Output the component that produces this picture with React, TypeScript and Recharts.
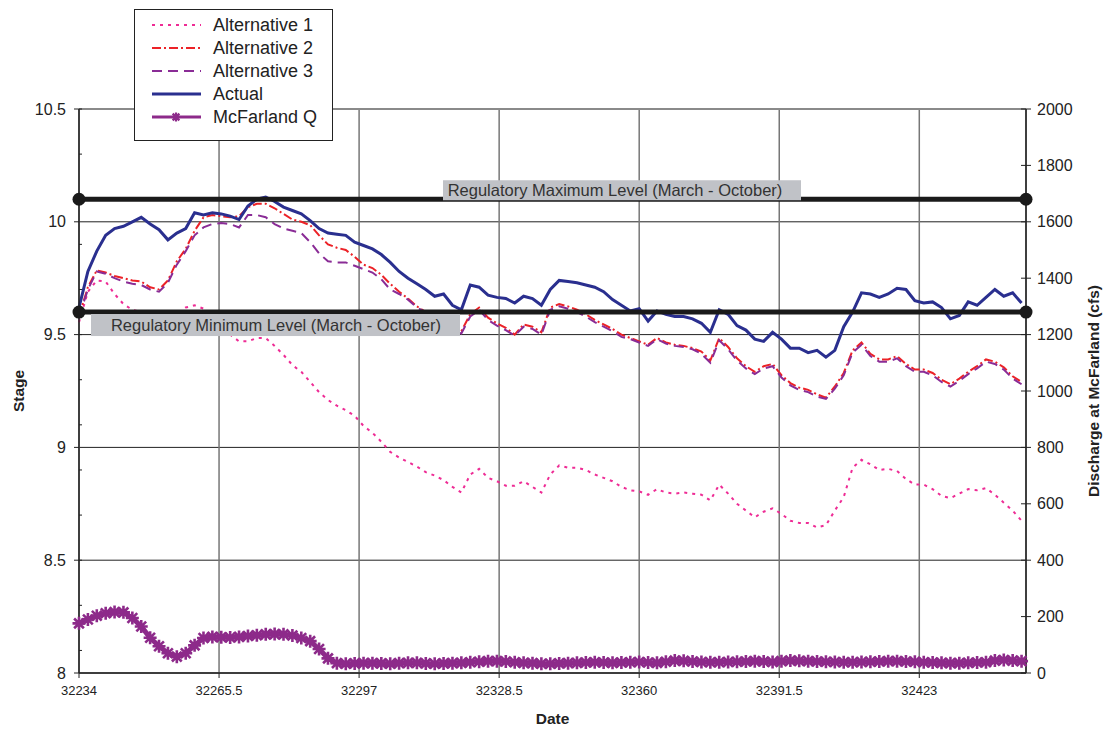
import React from "react";
import {
  ComposedChart,
  Line,
  XAxis,
  YAxis,
  CartesianGrid,
  ReferenceLine,
  ReferenceDot,
  Legend,
} from "recharts";

// Date axis (Excel serial days), daily record sampled every 2 days
const startDay = 32234;
const stepDays = 2;
const dateDomain = [32234, 32447];
const dateTicks = [32234, 32265.5, 32297, 32328.5, 32360, 32391.5, 32423];

const stageTicks = [8, 8.5, 9, 9.5, 10, 10.5];
const stageMinorTicks = [
  8, 8.1, 8.2, 8.3, 8.4, 8.5, 8.6, 8.7, 8.8, 8.9, 9, 9.1, 9.2, 9.3, 9.4, 9.5,
  9.6, 9.7, 9.8, 9.9, 10, 10.1, 10.2, 10.3, 10.4, 10.5,
];
const flowTicks = [0, 200, 400, 600, 800, 1000, 1200, 1400, 1600, 1800, 2000];

const regulatoryMax = 10.1;
const regulatoryMin = 9.6;

const alternative1 = [
  9.555, 9.69, 9.74, 9.735, 9.68, 9.635, 9.61, 9.6, 9.585, 9.57,
  9.57, 9.59, 9.62, 9.63, 9.615, 9.58, 9.54, 9.5, 9.47, 9.47,
  9.485, 9.485, 9.45, 9.41, 9.365, 9.335, 9.29, 9.245, 9.21, 9.185,
  9.165, 9.14, 9.095, 9.065, 9.025, 8.98, 8.955, 8.935, 8.915, 8.89,
  8.875, 8.855, 8.825, 8.8, 8.88, 8.905, 8.865, 8.85, 8.83, 8.83,
  8.85, 8.825, 8.8, 8.88, 8.92, 8.91, 8.91, 8.9, 8.88, 8.865,
  8.85, 8.825, 8.81, 8.805, 8.79, 8.815, 8.8, 8.795, 8.8, 8.795,
  8.79, 8.765, 8.835, 8.795, 8.75, 8.72, 8.69, 8.715, 8.73, 8.705,
  8.675, 8.665, 8.665, 8.645, 8.655, 8.72, 8.78, 8.91, 8.945, 8.925,
  8.9, 8.905, 8.895, 8.86, 8.835, 8.835, 8.815, 8.785, 8.775, 8.795,
  8.815, 8.81, 8.82, 8.79, 8.755, 8.72, 8.675,
];

const alternative2 = [
  9.58, 9.71, 9.785, 9.775, 9.76, 9.75, 9.74, 9.735, 9.71, 9.7,
  9.74, 9.825, 9.88, 9.96, 10.02, 10.03, 10.025, 10.02, 10.025, 10.065,
  10.08, 10.08, 10.06, 10.035, 10.01, 10.0, 9.985, 9.94, 9.9, 9.885,
  9.875, 9.845, 9.81, 9.795, 9.765, 9.725, 9.69, 9.66, 9.625, 9.6,
  9.575, 9.55, 9.53, 9.515, 9.59, 9.62, 9.575, 9.55, 9.53, 9.5,
  9.545, 9.535, 9.51, 9.62, 9.635, 9.625, 9.61, 9.59, 9.565, 9.545,
  9.525, 9.5, 9.485, 9.47, 9.455, 9.485, 9.465, 9.455, 9.45, 9.44,
  9.425, 9.385, 9.485, 9.445, 9.395, 9.36, 9.335, 9.36, 9.37, 9.32,
  9.285, 9.265, 9.255, 9.235, 9.22, 9.27, 9.33, 9.43, 9.465, 9.415,
  9.39, 9.39, 9.405, 9.37, 9.345, 9.345, 9.33, 9.3, 9.28, 9.305,
  9.335, 9.36, 9.39, 9.38, 9.355, 9.315, 9.29,
];

const alternative3 = [
  9.58, 9.7, 9.78, 9.77, 9.75, 9.735, 9.725, 9.72, 9.7, 9.69,
  9.73, 9.81, 9.87, 9.94, 9.975, 9.99, 9.995, 9.99, 9.975, 10.03,
  10.03, 10.02, 9.99, 9.97, 9.96, 9.95, 9.91, 9.86, 9.825, 9.82,
  9.82, 9.805, 9.79, 9.775, 9.745, 9.7, 9.68, 9.655, 9.62, 9.6,
  9.565, 9.54, 9.52, 9.505, 9.58, 9.61, 9.565, 9.54, 9.52, 9.495,
  9.535, 9.525, 9.5, 9.61, 9.625, 9.615, 9.6, 9.58, 9.555, 9.535,
  9.515, 9.49, 9.48, 9.465, 9.45, 9.48, 9.46, 9.45, 9.445, 9.435,
  9.415, 9.375, 9.475, 9.435, 9.385, 9.35, 9.325, 9.35, 9.36, 9.31,
  9.275, 9.255, 9.245, 9.225, 9.215, 9.26, 9.32, 9.42, 9.455, 9.405,
  9.38, 9.38, 9.395, 9.36, 9.335, 9.335, 9.32, 9.29, 9.27, 9.295,
  9.325, 9.35, 9.38, 9.37, 9.345, 9.305, 9.28,
];

const actual = [
  9.62, 9.78, 9.87, 9.94, 9.97, 9.98, 10.0, 10.02, 9.99, 9.965,
  9.92, 9.95, 9.97, 10.04, 10.03, 10.04, 10.035, 10.025, 10.01, 10.07,
  10.1, 10.11, 10.09, 10.065, 10.05, 10.035, 10.005, 9.97, 9.95, 9.945,
  9.94, 9.91, 9.895, 9.88, 9.855, 9.82, 9.78, 9.75, 9.725, 9.7,
  9.67, 9.68, 9.63, 9.61, 9.72, 9.71, 9.675, 9.665, 9.66, 9.64,
  9.67, 9.66, 9.63, 9.7, 9.74, 9.735, 9.73, 9.72, 9.71, 9.69,
  9.655, 9.63, 9.605, 9.615, 9.56, 9.605, 9.59, 9.58, 9.58, 9.57,
  9.55, 9.51, 9.61, 9.59, 9.54, 9.52, 9.48, 9.47, 9.51, 9.48,
  9.44, 9.44, 9.42, 9.43, 9.4, 9.43, 9.535, 9.6, 9.685, 9.68,
  9.665, 9.68, 9.705, 9.7, 9.65, 9.64, 9.645, 9.62, 9.57, 9.585,
  9.645, 9.63, 9.665, 9.7, 9.67, 9.685, 9.64,
];

// McFarland discharge, cfs (right axis)
const mcfarlandQ = [
  176, 190, 203, 212, 216, 215, 195, 165, 125, 95,
  70, 58, 70, 98, 124, 128, 127, 126, 128, 131,
  134, 137, 138, 137, 133, 124, 113, 85, 52, 35,
  33, 34, 35, 35, 34, 33, 35, 36, 36, 34,
  33, 34, 35, 36, 38, 40, 42, 42, 41, 38,
  36, 35, 33, 33, 34, 35, 36, 37, 38, 37,
  36, 37, 38, 39, 37, 36, 40, 44, 43, 41,
  39, 38, 38, 39, 40, 41, 42, 41, 39, 42,
  44, 43, 42, 41, 40, 39, 38, 38, 39, 40,
  41, 42, 42, 41, 40, 38, 37, 36, 35, 35,
  36, 37, 38, 44, 46, 44, 42,
];

const chartRows = actual.map((_, i) => ({
  day: startDay + i * stepDays,
  alt1: alternative1[i],
  alt2: alternative2[i],
  alt3: alternative3[i],
  actual: actual[i],
  flow: mcfarlandQ[i],
}));

const FONT = "'Liberation Sans', Arial, Helvetica, sans-serif";
const INK = "#222";
const ALT1 = "#ee2c95";
const ALT2 = "#ec2227";
const ALT3 = "#8a2c96";
const ACTUAL = "#2a2f8f";
const MCF = "#8d2a8a";
const REF = "#1a1a1a";
const BOX = "#c0c2c7";

function starPath(cx: number, cy: number, r: number) {
  const d = r * 0.75;
  return (
    `M${cx},${cy - r}L${cx},${cy + r}M${cx - r},${cy}L${cx + r},${cy}` +
    `M${cx - d},${cy - d}L${cx + d},${cy + d}M${cx - d},${cy + d}L${cx + d},${cy - d}`
  );
}

function StarDot(props: any) {
  const { cx, cy } = props;
  if (cx == null || cy == null) return <g />;
  return <path d={starPath(cx, cy, 6.5)} stroke={MCF} strokeWidth={2.6} fill="none" />;
}

const legendItems = [
  { name: "Alternative 1", color: ALT1, dash: "3 5", width: 2, star: false },
  { name: "Alternative 2", color: ALT2, dash: "9 3 2 3", width: 2, star: false },
  { name: "Alternative 3", color: ALT3, dash: "10 6", width: 2, star: false },
  { name: "Actual", color: ACTUAL, dash: undefined, width: 3, star: false },
  { name: "McFarland Q", color: MCF, dash: undefined, width: 3, star: true },
];

function LegendBox() {
  return (
    <svg width={199} height={132} style={{ display: "block" }}>
      <rect x={0.5} y={0.5} width={198} height={131} fill="#fff" stroke={INK} strokeWidth={1} />
      {legendItems.map((it, i) => {
        const cy = 16 + i * 23;
        return (
          <g key={it.name}>
            <line x1={18} x2={67} y1={cy} y2={cy} stroke={it.color} strokeWidth={it.width} strokeDasharray={it.dash} />
            {it.star && <path d={starPath(42, cy, 4.5)} stroke={MCF} strokeWidth={2.2} fill="none" />}
            <text x={79} y={cy} dominantBaseline="central" fontSize={18} fontFamily={FONT} fill={INK}>
              {it.name}
            </text>
          </g>
        );
      })}
    </svg>
  );
}

function RegLabel(text: string, dx: number, dy: number, w: number, h: number, textDx: number) {
  return (props: any) => {
    const vb = props.viewBox || {};
    const x = (vb.x ?? 0) + dx;
    const y = (vb.y ?? 0) + dy;
    return (
      <g>
        <rect x={x} y={y} width={w} height={h} fill={BOX} />
        <text x={x + textDx} y={y + h / 2} textAnchor="middle" dominantBaseline="central" fontSize={16.5} fontFamily={FONT} fill="#333">
          {text}
        </text>
      </g>
    );
  };
}

function yTitle(text: string, dx: number) {
  return (props: any) => {
    const vb = props.viewBox || {};
    const x = (vb.x ?? 0) + dx;
    const y = (vb.y ?? 0) + (vb.height ?? 0) / 2;
    return (
      <text x={x} y={y} transform={`rotate(-90 ${x} ${y})`} textAnchor="middle" dominantBaseline="central" fontSize={15.5} fontWeight="bold" fontFamily={FONT} fill={INK}>
        {text}
      </text>
    );
  };
}

function xTitle(props: any) {
  const vb = props.viewBox || {};
  const x = (vb.x ?? 0) + (vb.width ?? 0) / 2;
  const y = (vb.y ?? 0) + 45;
  return (
    <text x={x} y={y} textAnchor="middle" dominantBaseline="central" fontSize={15.5} fontWeight="bold" fontFamily={FONT} fill={INK}>
      Date
    </text>
  );
}

export default function App() {
  const tickStyle = { fill: INK, fontSize: 16, fontFamily: FONT };
  return (
    <div style={{ position: "fixed", left: 0, top: 0, width: 1104, height: 729, fontFamily: FONT, background: "#fff" }}>
      <ComposedChart width={1104} height={729} data={chartRows} margin={{ top: 109, right: 0, left: 0, bottom: 0 }}>
        <CartesianGrid vertical={false} stroke={INK} strokeWidth={1} yAxisId="stage" />
        <CartesianGrid horizontal={false} stroke="#777" strokeWidth={1.5} yAxisId="stage" />
        <XAxis
          dataKey="day"
          type="number"
          domain={dateDomain}
          ticks={dateTicks}
          height={56}
          tickSize={5}
          tickMargin={8}
          tick={{ fill: INK, fontSize: 13, fontFamily: FONT }}
          tickFormatter={(v) => String(v)}
          axisLine={{ stroke: INK, strokeWidth: 1.5 }}
          tickLine={{ stroke: INK }}
          label={{ content: xTitle }}
        />
        <YAxis
          yAxisId="stage"
          domain={[8, 10.5]}
          ticks={stageTicks}
          width={79}
          tickSize={5}
          tickMargin={8}
          tick={tickStyle}
          axisLine={{ stroke: INK, strokeWidth: 1.5 }}
          tickLine={{ stroke: INK }}
          allowDataOverflow
          label={{ content: yTitle("Stage", 18) }}
        />
        <YAxis
          yAxisId="stageMinor"
          mirror
          domain={[8, 10.5]}
          ticks={stageMinorTicks}
          tickSize={3}
          axisLine={false}
          tickLine={{ stroke: INK }}
          tick={() => <g />}
          allowDataOverflow
        />
        <YAxis
          yAxisId="flow"
          orientation="right"
          domain={[0, 2000]}
          ticks={flowTicks}
          width={78}
          tickSize={5}
          tickMargin={6}
          tick={tickStyle}
          axisLine={{ stroke: INK, strokeWidth: 1.5 }}
          tickLine={{ stroke: INK }}
          allowDataOverflow
          label={{ content: yTitle("Discharge at McFarland (cfs)", 67) }}
        />
        <YAxis
          yAxisId="flowMinor"
          orientation="right"
          mirror
          domain={[0, 2000]}
          ticks={flowTicks}
          tickSize={5}
          axisLine={false}
          tickLine={{ stroke: INK }}
          tick={() => <g />}
          allowDataOverflow
        />

        <ReferenceLine yAxisId="stage" y={10.5} stroke="#8a8a8a" strokeWidth={2} />

        <Line yAxisId="stage" dataKey="alt1" name="Alternative 1" stroke={ALT1} strokeWidth={2} strokeDasharray="3 5" dot={false} isAnimationActive={false} />
        <Line yAxisId="stage" dataKey="alt2" name="Alternative 2" stroke={ALT2} strokeWidth={2} strokeDasharray="9 3 2 3" dot={false} isAnimationActive={false} />
        <Line yAxisId="stage" dataKey="alt3" name="Alternative 3" stroke={ALT3} strokeWidth={2} strokeDasharray="10 6" dot={false} isAnimationActive={false} />
        <Line yAxisId="stage" dataKey="actual" name="Actual" stroke={ACTUAL} strokeWidth={3} dot={false} isAnimationActive={false} />
        <Line yAxisId="flow" dataKey="flow" name="McFarland Q" stroke={MCF} strokeWidth={5} dot={<StarDot />} isAnimationActive={false} />

        <ReferenceLine
          yAxisId="stage"
          y={regulatoryMax}
          stroke={REF}
          strokeWidth={5}
          label={{ content: RegLabel("Regulatory Maximum Level (March - October)", 364, -19, 358, 20, 172) }}
        />
        <ReferenceLine
          yAxisId="stage"
          y={regulatoryMin}
          stroke={REF}
          strokeWidth={5}
          label={{ content: RegLabel("Regulatory Minimum Level (March - October)", 12, 2, 369, 22, 185) }}
        />
        <ReferenceDot yAxisId="stage" x={dateDomain[0]} y={regulatoryMax} r={6.5} fill={REF} stroke="none" ifOverflow="visible" />
        <ReferenceDot yAxisId="stage" x={dateDomain[1]} y={regulatoryMax} r={6.5} fill={REF} stroke="none" ifOverflow="visible" />
        <ReferenceDot yAxisId="stage" x={dateDomain[0]} y={regulatoryMin} r={6.5} fill={REF} stroke="none" ifOverflow="visible" />
        <ReferenceDot yAxisId="stage" x={dateDomain[1]} y={regulatoryMin} r={6.5} fill={REF} stroke="none" ifOverflow="visible" />

        <Legend
          layout="vertical"
          align="center"
          verticalAlign="middle"
          content={() => <LegendBox />}
          wrapperStyle={{ left: 134, top: 9, width: 199, height: 132 }}
        />
      </ComposedChart>
    </div>
  );
}
